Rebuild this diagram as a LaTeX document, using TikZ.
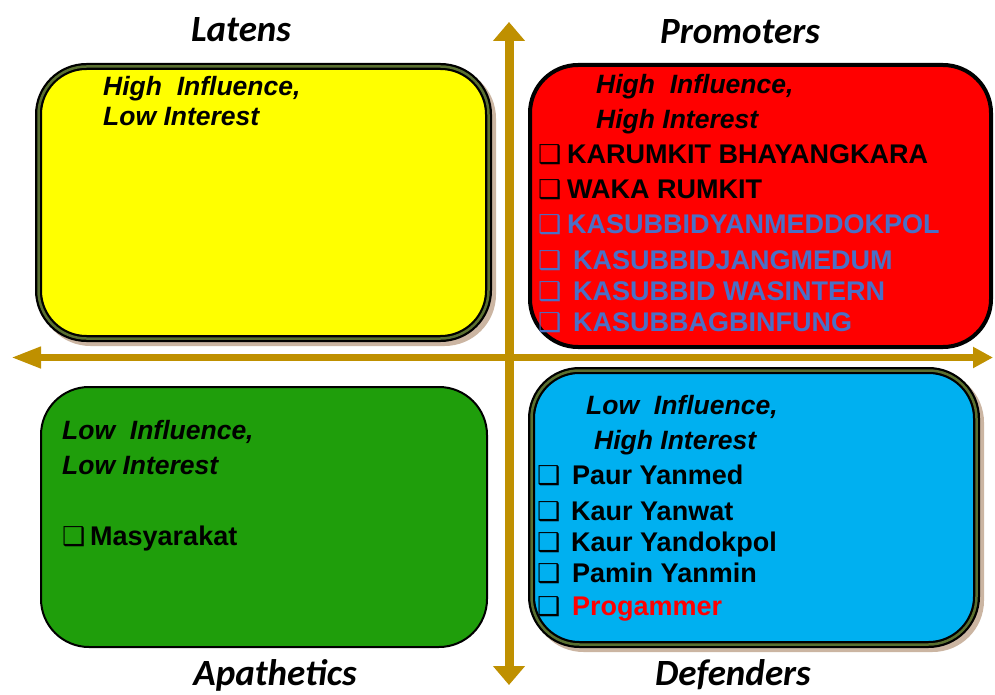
\documentclass[tikz,border=0pt]{standalone}
\usepackage{fontspec}
\setmainfont{Liberation Sans}
\newfontfamily\titlefont{Carlito}
\newfontfamily\dingfont{DejaVu Sans}
\usepackage{xcolor}
\usetikzlibrary{arrows.meta}

\definecolor{quadyellow}{HTML}{FFFF00}
\definecolor{quadred}{HTML}{FF0000}
\definecolor{quadgreen}{HTML}{1F9E0B}
\definecolor{quadblue}{HTML}{00B0F0}
\definecolor{axisgold}{HTML}{BF9000}
\definecolor{rimolive}{HTML}{5A7030}
\definecolor{shadowtan}{HTML}{CBB5A2}
\definecolor{itemblue}{HTML}{4A70C6}

\newcommand{\chkbox}[1]{\makebox[#1][l]{\dingfont\fontsize{26}{28}\selectfont\char"2751}}

\tikzset{
  quad/.style={rounded corners=48},
  head/.style={anchor=base west,inner sep=0pt,font=\fontsize{26.5}{30}\selectfont\bfseries\itshape},
  item/.style={anchor=base west,inner sep=0pt,font=\fontsize{27}{30}\selectfont\bfseries},
  quadtitle/.style={anchor=base,inner sep=0pt,font=\titlefont\fontsize{37}{40}\selectfont\bfseries\itshape},
}

\begin{document}
\begin{tikzpicture}[x=1pt,y=1pt,yscale=-1,xscale=1]
\useasboundingbox (0,0) rectangle (995,695);

%Axes
\coordinate (axtop) at (509,22);
\coordinate (axbot) at (509,685);
\coordinate (axleft) at (11,357.5);
\coordinate (axright) at (993,357.5);
\draw [axisgold,line width=9,{Triangle[length=19pt,width=31pt]}-{Triangle[length=19pt,width=31pt]}] (axtop) -- (axbot) ;
\draw [axisgold,line width=7,{Triangle[length=30pt,width=20pt]}-{Triangle[length=20pt,width=20pt]}] (axleft) -- (axright) ;

%Shape: Rounded Rect (yellow)
\draw [quad,line width=7,shadowtan,fill=shadowtan] (38.5+4,66.5+4) rectangle (488.5+4,338.5+4) ;
\draw [quad,fill=quadyellow,line width=7] (38.5,66.5) rectangle (488.5,338.5) ;
\draw [quad,rimolive,line width=2.5] (38.5,66.5) rectangle (488.5,338.5) ;
%Shape: Rounded Rect (red)
\draw [quad,fill=quadred,line width=4] (530,65) rectangle (991,347) ;
%Shape: Rounded Rect (green)
\draw [quad,fill=quadgreen,line width=2] (41,387) rectangle (487,647) ;
%Shape: Rounded Rect (blue)
\draw [quad,line width=7,shadowtan,fill=shadowtan] (531.5+4,370.5+4) rectangle (976.5+4,644.5+4) ;
\draw [quad,fill=quadblue,line width=7] (531.5,370.5) rectangle (976.5,644.5) ;
\draw [quad,rimolive,line width=2.5] (531.5,370.5) rectangle (976.5,644.5) ;

% Text Node
\node (latens) at (241,42) [quadtitle] {Latens};
% Text Node
\node (promoters) at (740,44) [quadtitle] {Promoters};
% Text Node
\node (apathetics) at (275,685) [quadtitle] {Apathetics};
% Text Node
\node (defenders) at (733,685) [quadtitle] {Defenders};

% Text Node
\node (lat1) at (103,96) [head] {High\ \ Influence,};
% Text Node
\node (lat2) at (103,126) [head] {Low Interest};

% Text Node
\node (prom1) at (596,94) [head] {High\ \ Influence,};
% Text Node
\node (prom2) at (596,129) [head] {High Interest};
% Text Node
\node (prom3) at (538,164) [item] {\chkbox{29pt}KARUMKIT BHAYANGKARA};
% Text Node
\node (prom4) at (538,198) [item] {\chkbox{29pt}WAKA RUMKIT};
% Text Node
\node (prom5) at (538,233) [item,itemblue] {\chkbox{29pt}KASUBBIDYANMEDDOKPOL};
% Text Node
\node (prom6) at (538,269) [item,itemblue] {\chkbox{35pt}KASUBBIDJANGMEDUM};
% Text Node
\node (prom7) at (538,300) [item,itemblue] {\chkbox{35pt}KASUBBID WASINTERN};
% Text Node
\node (prom8) at (538,331) [item,itemblue] {\chkbox{35pt}KASUBBAGBINFUNG};

% Text Node
\node (apa1) at (62,439) [head] {Low\ \ Influence,};
% Text Node
\node (apa2) at (62,474) [head] {Low Interest};
% Text Node
\node (apa3) at (62,545) [item] {\chkbox{28pt}Masyarakat};

% Text Node
\node (def1) at (586,414) [head] {Low\ \ Influence,};
% Text Node
\node (def2) at (594,449) [head] {High Interest};
% Text Node
\node (def3) at (537,484) [item] {\chkbox{35pt}Paur Yanmed};
% Text Node
\node (def4) at (537,520) [item] {\chkbox{34pt}Kaur Yanwat};
% Text Node
\node (def5) at (537,551) [item] {\chkbox{34pt}Kaur Yandokpol};
% Text Node
\node (def6) at (537,582) [item] {\chkbox{35pt}Pamin Yanmin};
% Text Node
\node (def7) at (537,615) [item] {\chkbox{35pt}\textcolor{quadred}{Progammer}};
\end{tikzpicture}
\end{document}
